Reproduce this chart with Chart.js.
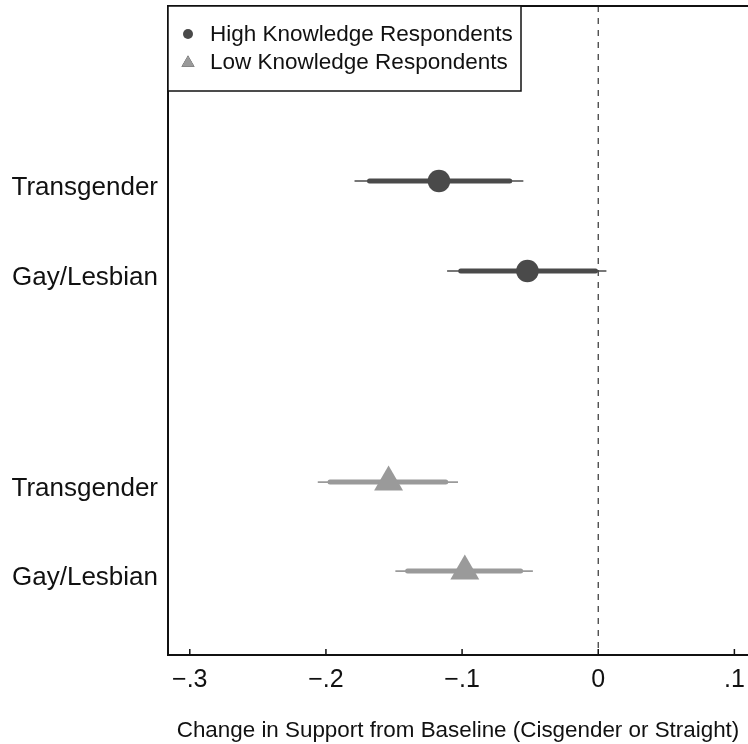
<!DOCTYPE html>
<html>
<head>
<meta charset="utf-8">
<title>Change in Support from Baseline</title>
<script src="https://cdn.jsdelivr.net/npm/chart.js@4/dist/chart.umd.min.js"></script>
<style>
  html, body { margin: 0; padding: 0; background: #ffffff; }
  #wrap { width: 748px; height: 744px; }
</style>
</head>
<body>
<div id="wrap"><canvas id="chart" width="748" height="744"></canvas></div>
<script>
// ---- data ----
const groups = ['High Knowledge Respondents', 'Low Knowledge Respondents'];
const rowLabels = ['Transgender', 'Gay/Lesbian', 'Transgender', 'Gay/Lesbian'];
const rowGroup = [0, 0, 1, 1];
const estimates = [-0.117, -0.052, -0.154, -0.098];
const ci95Low  = [-0.179, -0.111, -0.206, -0.149];
const ci95High = [-0.055,  0.006, -0.103, -0.048];
const ci90Low  = [-0.168, -0.101, -0.197, -0.140];
const ci90High = [-0.065, -0.002, -0.112, -0.057];
const xTickValues = [-0.3, -0.2, -0.1, 0, 0.1];
const xTitle = 'Change in Support from Baseline (Cisgender or Straight)';

// ---- layout ----
const rowPos = [1.944, 2.944, 5.289, 6.278];
const FONT = '"Liberation Sans", Arial, Helvetica, sans-serif';
const groupColor = ['#4a4a4a', '#9a9a9a'];
const groupStyle = ['circle', 'triangle'];
const groupRadius = [11.3, 16.7];

const datasets = [];
rowLabels.forEach((lab, i) => {
  const g = rowGroup[i];
  datasets.push({
    label: lab + ' 95%',
    data: [{x: ci95Low[i], y: rowPos[i]}, {x: ci95High[i], y: rowPos[i]}],
    showLine: true, borderColor: groupColor[g], borderWidth: 1.6,
    pointRadius: 0, order: 3
  });
  datasets.push({
    label: lab + ' 90%',
    data: [{x: ci90Low[i], y: rowPos[i]}, {x: ci90High[i], y: rowPos[i]}],
    showLine: true, borderColor: groupColor[g], borderWidth: 5,
    borderCapStyle: 'round', pointRadius: 0, order: 2
  });
});
groups.forEach((name, g) => {
  datasets.push({
    label: name,
    data: rowLabels.map((_, i) => i).filter(i => rowGroup[i] === g)
      .map(i => ({x: estimates[i], y: rowPos[i]})),
    showLine: false,
    pointStyle: groupStyle[g],
    pointRadius: groupRadius[g],
    pointBackgroundColor: groupColor[g],
    pointBorderWidth: 0,
    order: 1
  });
});

// frame, zero reference line, inward ticks and boxed legend
const decorations = {
  id: 'decorations',
  beforeDatasetsDraw(chart) {
    const {ctx, chartArea, scales} = chart;
    const x0 = scales.x.getPixelForValue(0);
    ctx.save();
    ctx.strokeStyle = '#333333';
    ctx.lineWidth = 1.2;
    ctx.setLineDash([6, 6]);
    ctx.beginPath();
    ctx.moveTo(x0, chartArea.top);
    ctx.lineTo(x0, chartArea.bottom);
    ctx.stroke();
    ctx.restore();
  },
  afterDraw(chart) {
    const {ctx, chartArea, scales} = chart;
    ctx.save();
    // top frame line
    ctx.strokeStyle = '#111111';
    ctx.lineWidth = 2;
    ctx.beginPath();
    ctx.moveTo(chartArea.left - 1, chartArea.top);
    ctx.lineTo(chart.width, chartArea.top);
    ctx.stroke();
    // inward x ticks
    ctx.lineWidth = 1.5;
    scales.x.ticks.forEach(t => {
      const px = scales.x.getPixelForValue(t.value);
      ctx.beginPath();
      ctx.moveTo(px, chartArea.bottom);
      ctx.lineTo(px, chartArea.bottom - 6);
      ctx.stroke();
    });
    // legend box
    const bx = chartArea.left, by = chartArea.top, bw = 353, bh = 85;
    ctx.fillStyle = '#ffffff';
    ctx.fillRect(bx, by, bw, bh);
    ctx.strokeStyle = '#111111';
    ctx.lineWidth = 1.5;
    ctx.strokeRect(bx, by, bw, bh);
    const legendSize = [5, 7.5];
    groups.forEach((name, g) => {
      const cy = by + 28 + g * 28;
      Chart.helpers.drawPoint(ctx, {
        pointStyle: groupStyle[g], radius: legendSize[g], borderWidth: 0
      }, bx + 20, cy + (g === 1 ? 1 : 0));
      ctx.fillStyle = groupColor[g];
      ctx.fill();
      ctx.fillStyle = '#111111';
      ctx.font = '22.5px ' + FONT;
      ctx.textBaseline = 'middle';
      ctx.textAlign = 'left';
      ctx.fillText(name, bx + 42, cy + 1);
    });
    ctx.restore();
  }
};

new Chart(document.getElementById('chart'), {
  type: 'scatter',
  data: { datasets },
  options: {
    responsive: false,
    animation: false,
    layout: { autoPadding: false, padding: { top: 6, right: 0, left: 0, bottom: 0 } },
    plugins: { legend: { display: false }, tooltip: { enabled: false } },
    scales: {
      x: {
        type: 'linear', min: -0.316, max: 0.110,
        afterBuildTicks: s => { s.ticks = xTickValues.map(v => ({value: v})); },
        afterFit: s => { s.height = 89; s.paddingLeft = 0; s.paddingRight = 0; },
        grid: { display: false, drawTicks: false },
        border: { display: true, color: '#111111', width: 2 },
        ticks: {
          color: '#111111', padding: 10, maxRotation: 0,
          font: { family: FONT, size: 25 },
          callback: v => v === 0 ? '0' : (v < 0 ? '\u2212' : '') + String(Math.abs(Math.round(v * 10) / 10)).replace(/^0/, '')
        },
        title: {
          display: true, text: xTitle, color: '#111111',
          font: { family: FONT, size: 22.4 }, padding: { top: 14, bottom: 0 }
        }
      },
      y: {
        type: 'linear', reverse: true, min: 0, max: 7.21,
        afterBuildTicks: s => { s.ticks = rowPos.map(v => ({value: v})); },
        afterFit: s => { s.width = 168; s.paddingTop = 0; s.paddingBottom = 0; },
        grid: { display: false, drawTicks: false },
        border: { display: true, color: '#111111', width: 2 },
        ticks: {
          color: '#111111', padding: 10, labelOffset: 7,
          font: { family: FONT, size: 26 },
          callback: (v, i) => rowLabels[i]
        }
      }
    }
  },
  plugins: [decorations]
});
</script>
</body>
</html>
